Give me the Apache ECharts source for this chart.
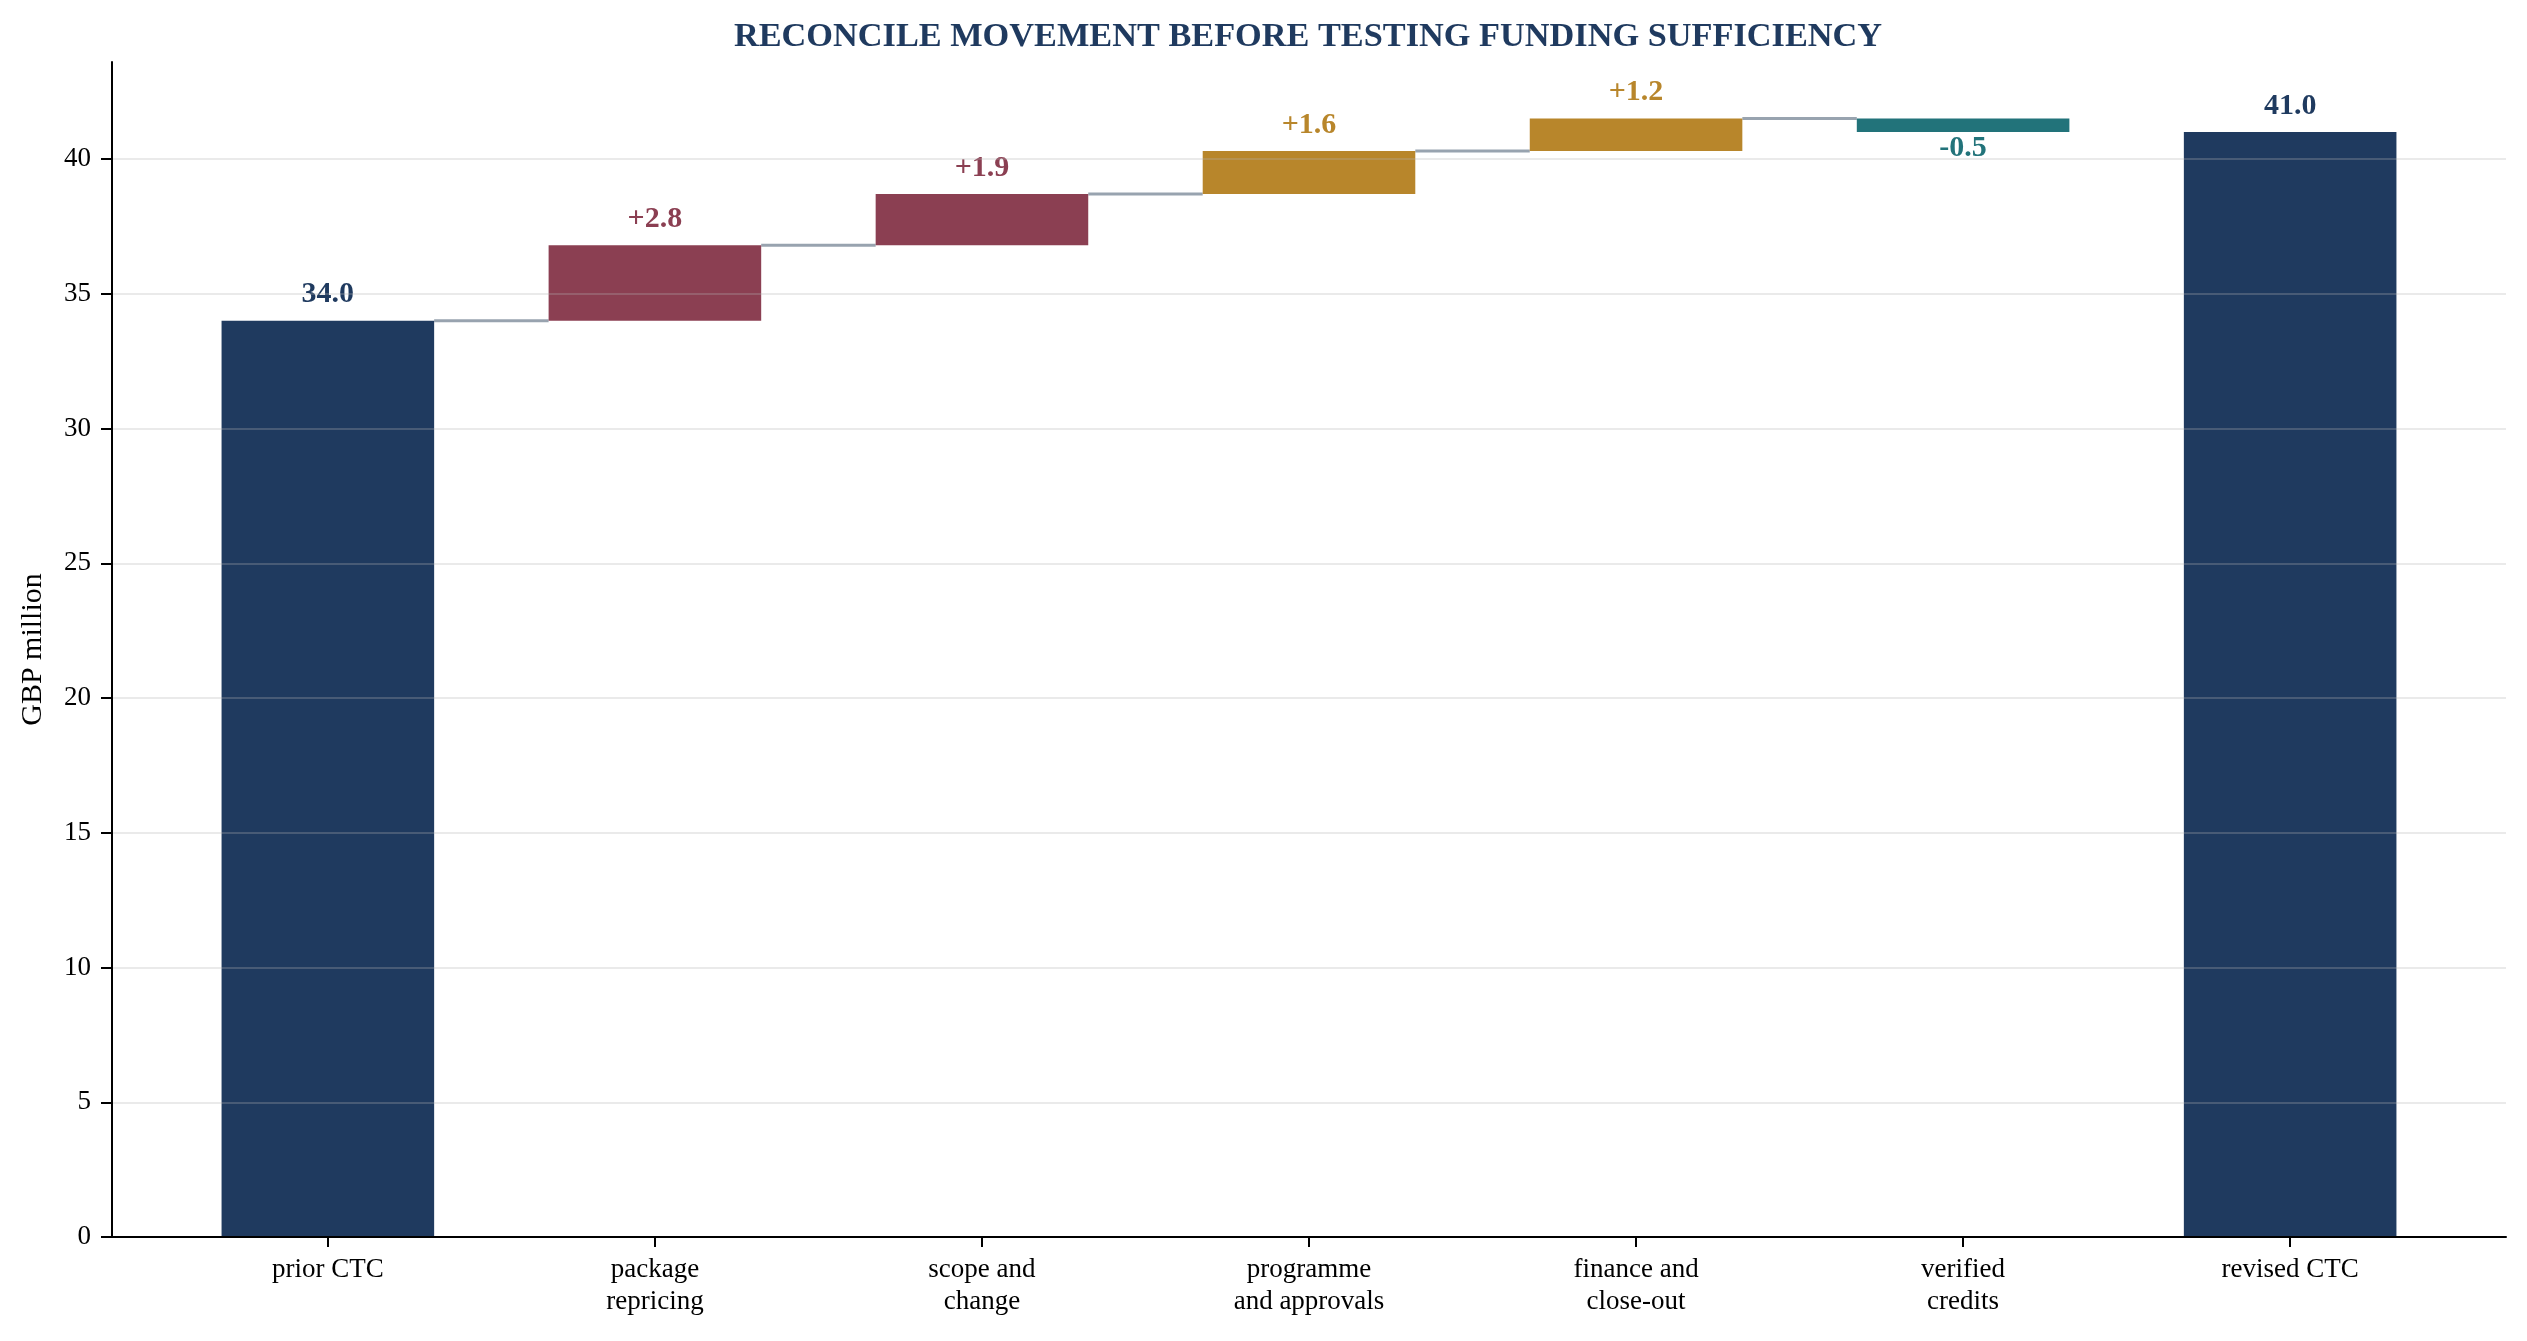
<!DOCTYPE html>
<html lang="en">
<head>
    <meta charset="UTF-8">
    <title>Reconcile movement</title>
    <style>
        html, body { margin: 0; padding: 0; background: #ffffff; }
        #chart { width: 2527px; height: 1341px; }
    </style>
    <script src="https://cdn.jsdelivr.net/npm/echarts@6/dist/echarts.min.js"></script>
</head>
<body>
<div id="chart"></div>
<script>
    // categories along the bottom
    var categories = ['prior CTC', 'package\nrepricing', 'scope and\nchange', 'programme\nand approvals',
        'finance and\nclose-out', 'verified\ncredits', 'revised CTC'];
    // first and last are totals, the rest are movements
    var steps = [34.0, 2.8, 1.9, 1.6, 1.2, -0.5, 41.0];
    var kinds = ['total', 'cost', 'cost', 'risk', 'risk', 'credit', 'total'];
    var valueLabels = ['34.0', '+2.8', '+1.9', '+1.6', '+1.2', '-0.5', '41.0'];
    var yTicks = [0, 5, 10, 15, 20, 25, 30, 35, 40];

    var colors = {total: '#1f3a5f', cost: '#8b3f52', risk: '#b8862b', credit: '#22737a'};
    var serif = '"Liberation Serif", "Times New Roman", serif';
    var half = 0.325;

    // build bar ranges (low, high) from the running total
    var bars = [];
    var links = [];
    var running = 0;
    for (var i = 0; i < steps.length; i++) {
        var lo, hi;
        if (kinds[i] === 'total') {
            lo = 0;
            hi = steps[i];
            running = steps[i];
        } else {
            var next = running + steps[i];
            lo = Math.min(running, next);
            hi = Math.max(running, next);
            running = next;
        }
        bars.push([i, lo, hi, steps[i], i]);
        // connector to the next movement (not into the closing total)
        if (i + 1 < steps.length && kinds[i + 1] !== 'total') {
            links.push([i, running]);
        }
    }

    var myChart = echarts.init(document.getElementById('chart'));

    var option = {
        backgroundColor: '#ffffff',
        animation: false,
        title: {
            text: 'RECONCILE MOVEMENT BEFORE TESTING FUNDING SUFFICIENCY',
            left: 1303,
            top: 15,
            textAlign: 'center',
            textStyle: {
                fontFamily: serif,
                fontWeight: 'bold',
                fontSize: 34.3,
                color: '#1f3a5f'
            }
        },
        grid: {
            left: 112,
            right: 21,
            top: 62,
            bottom: 104,
            outerBoundsMode: 'none'
        },
        xAxis: {
            type: 'value',
            min: -0.66,
            max: 6.66,
            z: 5,
            splitLine: {show: false},
            axisLine: {show: true, onZero: false, lineStyle: {color: '#000000', width: 2}},
            axisTick: {show: true, length: 10, lineStyle: {color: '#000000', width: 2}, customValues: [0, 1, 2, 3, 4, 5, 6]},
            axisLabel: {
                customValues: [0, 1, 2, 3, 4, 5, 6],
                formatter: function (v) { return categories[Math.round(v)]; },
                fontFamily: serif,
                fontSize: 27,
                lineHeight: 32,
                color: '#000000',
                margin: 17
            }
        },
        yAxis: {
            type: 'value',
            min: 0,
            max: 43.6,
            interval: 5,
            z: 5,
            name: 'GBP million',
            nameLocation: 'middle',
            nameRotate: 90,
            nameGap: 64,
            nameMoveOverlap: false,
            nameTextStyle: {fontFamily: serif, fontSize: 30, color: '#000000'},
            axisLine: {show: true, onZero: false, lineStyle: {color: '#000000', width: 2}},
            axisTick: {show: true, length: 11, lineStyle: {color: '#000000', width: 2}, customValues: yTicks},
            axisLabel: {
                customValues: yTicks,
                fontFamily: serif,
                fontSize: 27,
                color: '#000000',
                margin: 21
            },
            splitLine: {
                show: true,
                showMinLine: false,
                lineStyle: {color: 'rgba(180,180,180,0.28)', width: 2}
            }
        },
        series: [
            {
                // bars with their value labels
                type: 'custom',
                z: 2,
                data: bars,
                renderItem: function (params, api) {
                    var idx = api.value(4);
                    var p0 = api.coord([api.value(0) - half, api.value(2)]);
                    var p1 = api.coord([api.value(0) + half, api.value(1)]);
                    var c = colors[kinds[idx]];
                    var up = api.value(3) >= 0;
                    var mid = api.coord([api.value(0), up ? api.value(2) : api.value(1)]);
                    return {
                        type: 'group',
                        children: [
                            {
                                type: 'rect',
                                shape: {x: p0[0], y: p0[1], width: p1[0] - p0[0], height: p1[1] - p0[1]},
                                style: {fill: c}
                            },
                            {
                                type: 'text',
                                x: mid[0],
                                y: up ? mid[1] - 26 : mid[1] + 16,
                                style: {
                                    text: valueLabels[idx],
                                    fill: c,
                                    font: 'bold 30px ' + serif,
                                    align: 'center',
                                    verticalAlign: 'middle'
                                }
                            }
                        ]
                    };
                }
            },
            {
                // step connectors between bars
                type: 'custom',
                z: 1,
                data: links,
                renderItem: function (params, api) {
                    var a = api.coord([api.value(0) + half, api.value(1)]);
                    var b = api.coord([api.value(0) + 1 - half, api.value(1)]);
                    return {
                        type: 'line',
                        shape: {x1: a[0], y1: a[1], x2: b[0], y2: b[1]},
                        style: {stroke: '#98a3af', lineWidth: 3}
                    };
                }
            }
        ]
    };

    myChart.setOption(option);
</script>
</body>
</html>
